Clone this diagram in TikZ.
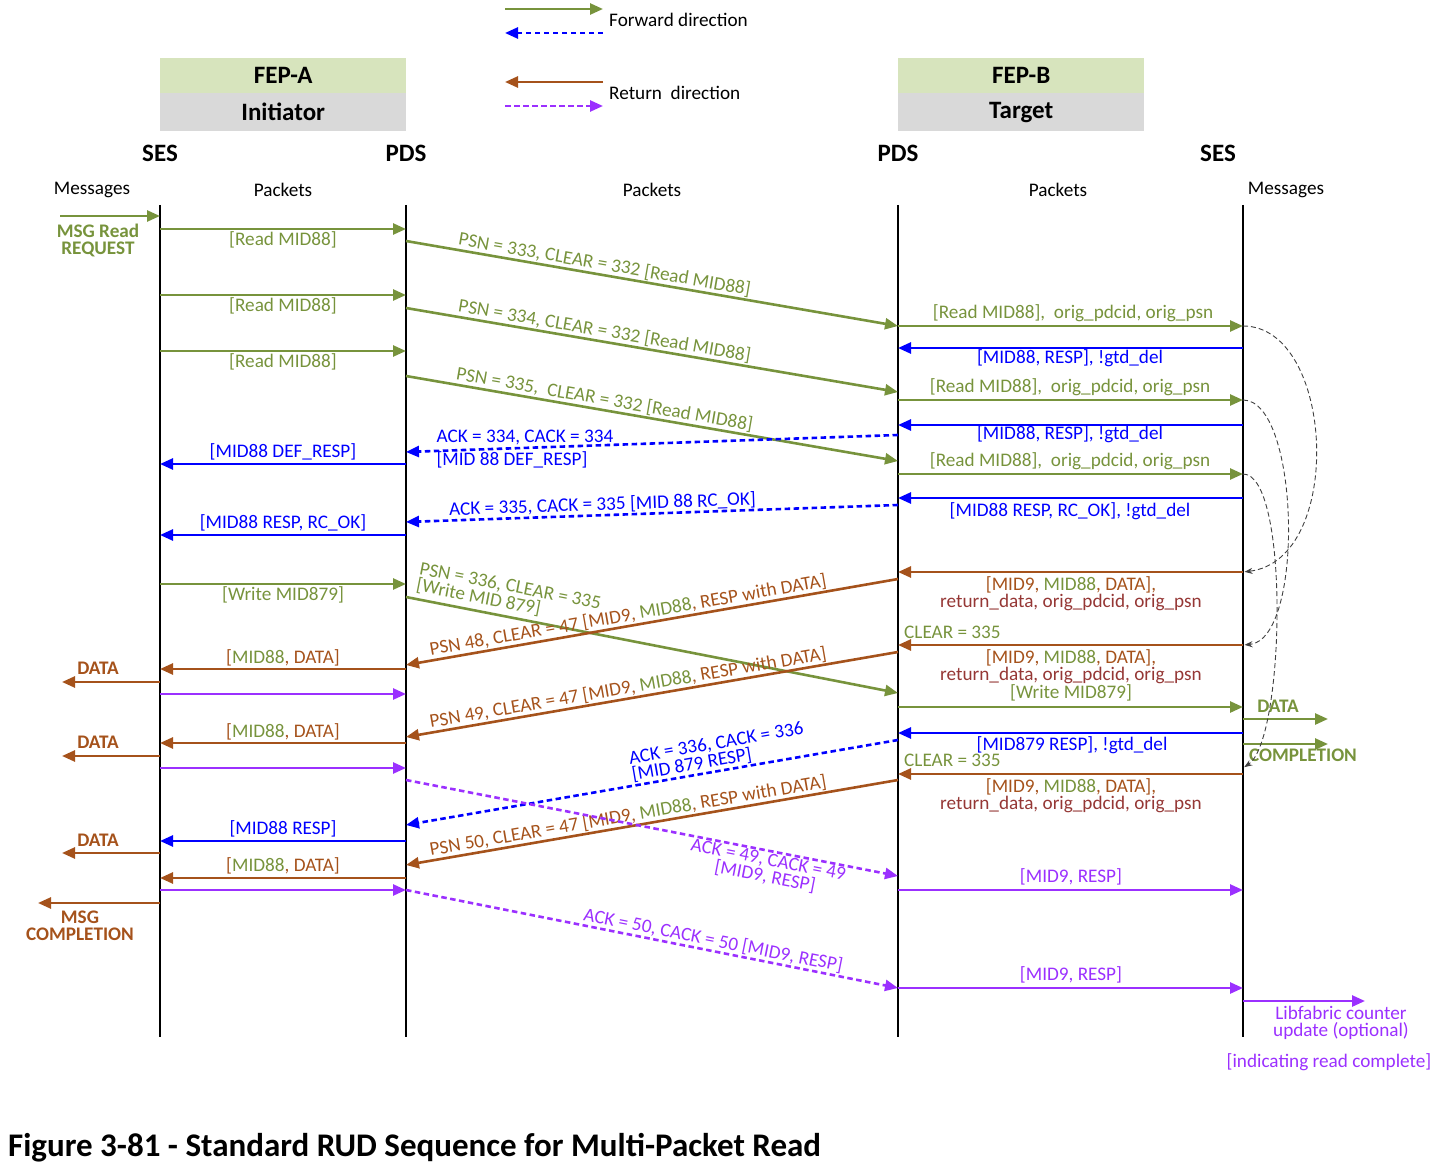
\documentclass[tikz,border=0pt]{standalone}
\usepackage{fontspec}
\setmainfont{Carlito}
\usetikzlibrary{arrows.meta}
\definecolor{fwgreen}{HTML}{77933C}
\definecolor{fwblue}{HTML}{0000FF}
\definecolor{rtbrown}{HTML}{A5521B}
\definecolor{rtpurple}{HTML}{9B30FF}
\definecolor{dkred}{HTML}{953735}
\definecolor{hdrgreen}{HTML}{D7E4BD}
\definecolor{hdrgray}{HTML}{D9D9D9}
\newcommand{\gtxt}[1]{\textcolor{fwgreen}{#1}}
\newcommand{\hmsg}[4]{\draw[#1] (#2|-0,#4) -- (#3|-0,#4);}
\begin{document}
\begin{tikzpicture}[x=1pt,y=-1pt,
  msgtip/.style={-{Triangle[length=13pt,width=11pt]}},
  msgline/.style={line width=2.6pt, msgtip},
  fwd/.style={msgline, draw=fwgreen},
  ackfwd/.style={msgline, draw=fwblue, dash pattern=on 5.5pt off 3.5pt},
  ret/.style={msgline, draw=rtbrown},
  ackret/.style={msgline, draw=rtpurple, dash pattern=on 5.5pt off 3.5pt},
  resp/.style={msgline, draw=fwblue},
  purp/.style={msgline, draw=rtpurple},
  life/.style={line width=2.8pt, draw=black},
  lbl/.style={font=\fontsize{19.2}{17}\selectfont, inner sep=1pt},
  blbl/.style={font=\fontsize{19.2}{17}\selectfont\bfseries, inner sep=1pt, align=center},
  hdr/.style={font=\fontsize{25}{27}\selectfont\bfseries, inner sep=0pt},
  duelink/.style={draw=black!75, line width=0.9pt, dash pattern=on 5pt off 3pt, -{Stealth[length=8pt,width=6pt]}, shorten >=1.5pt},
]
\useasboundingbox (0,0) rectangle (1441,1174);

% lifeline positions
\coordinate (sA) at (160,0);
\coordinate (pA) at (406,0);
\coordinate (pB) at (898,0);
\coordinate (sB) at (1243,0);

% legend
\draw[fwd] (505,9) coordinate (lg1) -- (603,9) coordinate (lg2);
\draw[ackfwd] (603,33) coordinate (lg3) -- (505,33) coordinate (lg4);
\node[lbl, anchor=west] (lgF) at (608,20) {Forward direction};
\draw[ret] (603,82) coordinate (lg5) -- (505,82) coordinate (lg6);
\draw[ackret] (505,106) coordinate (lg7) -- (603,106) coordinate (lg8);
\node[lbl, anchor=west] (lgR) at (608,93) {Return\ \ direction};

% headers
\node[hdr, fill=hdrgreen, minimum width=246pt, minimum height=35pt, anchor=north west] (fepA) at (160,58) {FEP-A};
\node[hdr, fill=hdrgray, minimum width=246pt, minimum height=38pt, anchor=north west] (initA) at (160,93) {Initiator};
\node[hdr, fill=hdrgreen, minimum width=246pt, minimum height=35pt, anchor=north west] (fepB) at (898,58) {FEP-B};
\node[hdr, fill=hdrgray, minimum width=246pt, minimum height=38pt, anchor=north west] (targB) at (898,93) {Target};

\node[hdr] (sesA) at (160,153) {SES};
\node[hdr] (pdsA) at (406,153) {PDS};
\node[hdr] (pdsB) at (898,153) {PDS};
\node[hdr] (sesB) at (1218,153) {SES};

\node[lbl] (msgA) at (92,190) {Messages};
\node[lbl] (pk1) at (283,190) {Packets};
\node[lbl] (pk2) at (652,190) {Packets};
\node[lbl] (pk3) at (1058,190) {Packets};
\node[lbl] (msgB) at (1286,190) {Messages};

% lifelines
\draw[life] (sA|-0,205) -- (sA|-0,1037);
\draw[life] (pA|-0,205) -- (pA|-0,1037);
\draw[life] (pB|-0,205) -- (pB|-0,1037);
\draw[life] (sB|-0,205) -- (sB|-0,1037);

% ---- SES-A side
\draw[fwd] (60,216) coordinate (inReq) -- (sA|-0,216);
\node[blbl, text=fwgreen] (reqL) at (98,240) {MSG Read\\REQUEST};

\hmsg{fwd}{sA}{pA}{229}
\hmsg{fwd}{sA}{pA}{295}
\hmsg{fwd}{sA}{pA}{351}
\hmsg{resp}{pA}{sA}{464}
\hmsg{resp}{pA}{sA}{535}
\hmsg{fwd}{sA}{pA}{584}
\hmsg{ret}{pA}{sA}{669}
\hmsg{purp}{sA}{pA}{694}
\hmsg{ret}{pA}{sA}{743}
\hmsg{purp}{sA}{pA}{768}
\hmsg{resp}{pA}{sA}{841}
\hmsg{ret}{pA}{sA}{878}
\hmsg{purp}{sA}{pA}{890}

\node[lbl, text=fwgreen] (a1) at (283,240) {[Read MID88]};
\node[lbl, text=fwgreen] (a2) at (283,306) {[Read MID88]};
\node[lbl, text=fwgreen] (a3) at (283,362) {[Read MID88]};
\node[lbl, text=fwblue] (a4) at (283,452) {[MID88 DEF\_RESP]};
\node[lbl, text=fwblue] (a5) at (283,523) {[MID88 RESP, RC\_OK]};
\node[lbl, text=fwgreen] (a6) at (283,595) {[Write MID879]};
\node[lbl, text=rtbrown] (a7) at (283,658) {[\gtxt{MID88}, DATA]};
\node[lbl, text=rtbrown] (a8) at (283,732) {[\gtxt{MID88}, DATA]};
\node[lbl, text=fwblue] (a9) at (283,829) {[MID88 RESP]};
\node[lbl, text=rtbrown] (a10) at (283,866) {[\gtxt{MID88}, DATA]};

\draw[ret] (sA|-0,682) -- (62,682) coordinate (outD1);
\node[blbl, text=rtbrown] (dL1) at (98,668) {DATA};
\draw[ret] (sA|-0,756) -- (62,756) coordinate (outD2);
\node[blbl, text=rtbrown] (dL2) at (98,742) {DATA};
\draw[ret] (sA|-0,853) -- (62,853) coordinate (outD3);
\node[blbl, text=rtbrown] (dL3) at (98,840) {DATA};
\draw[ret] (sA|-0,903) -- (38,903) coordinate (outC);
\node[blbl, text=rtbrown] (cL) at (80,926) {MSG\\COMPLETION};

% ---- PDS-A <-> PDS-B diagonals
\draw[fwd] (pA|-0,241) -- node[lbl, sloped, above, pos=0.4, text=fwgreen] (d1) {PSN = 333, CLEAR = 332 [Read MID88]} (pB|-0,326);
\draw[fwd] (pA|-0,308) -- node[lbl, sloped, above, pos=0.4, text=fwgreen] (d2) {PSN = 334, CLEAR = 332 [Read MID88]} (pB|-0,392);
\draw[fwd] (pA|-0,376) -- node[lbl, sloped, above, pos=0.4, text=fwgreen] (d3) {PSN = 335,\ \ CLEAR = 332 [Read MID88]} (pB|-0,461);

\draw[ackfwd] (pB|-0,435) -- (pA|-0,452);
\node[lbl, text=fwblue] (k1a) at (525,437) {ACK = 334, CACK = 334};
\node[lbl, text=fwblue] (k1b) at (512,460) {[MID 88 DEF\_RESP]};
\draw[ackfwd] (pB|-0,505) -- node[lbl, sloped, above, pos=0.6, text=fwblue] (k2) {ACK = 335, CACK = 335 [MID 88 RC\_OK]} (pA|-0,522);

\draw[fwd] (pA|-0,597) -- node[lbl, sloped, above=3pt, pos=0.2, text=fwgreen, align=left] (d4) {PSN = 336, CLEAR = 335\\{}[Write MID 879]} (pB|-0,693);

\draw[ret] (pB|-0,579) -- node[lbl, sloped, above, pos=0.545, text=rtbrown] (r1) {PSN 48, CLEAR = 47 [MID9, \gtxt{MID88}, RESP with DATA]} (pA|-0,665);
\draw[ret] (pB|-0,652) -- node[lbl, sloped, above, pos=0.545, text=rtbrown] (r2) {PSN 49, CLEAR = 47 [MID9, \gtxt{MID88}, RESP with DATA]} (pA|-0,737);
\draw[ackfwd] (pB|-0,740) -- node[lbl, sloped, above, pos=0.36, text=fwblue, align=left] (k3) {ACK = 336, CACK = 336\\{}[MID 879 RESP]} (pA|-0,825);
\draw[ret] (pB|-0,780) -- node[lbl, sloped, above, pos=0.545, text=rtbrown] (r3) {PSN 50, CLEAR = 47 [MID9, \gtxt{MID88}, RESP with DATA]} (pA|-0,865);

\draw[ackret] (pA|-0,780) -- node[lbl, sloped, below, pos=0.74, text=rtpurple, align=center] (p1) {ACK = 49, CACK = 49\\{}[MID9, RESP]} (pB|-0,876);
\draw[ackret] (pA|-0,890) -- node[lbl, sloped, above, pos=0.62, text=rtpurple] (p2) {ACK = 50, CACK = 50 [MID9, RESP]} (pB|-0,988);

% ---- PDS-B <-> SES-B
\hmsg{fwd}{pB}{sB}{326}
\hmsg{resp}{sB}{pB}{348}
\hmsg{fwd}{pB}{sB}{400}
\hmsg{resp}{sB}{pB}{425}
\hmsg{fwd}{pB}{sB}{474}
\hmsg{resp}{sB}{pB}{498}
\hmsg{ret}{sB}{pB}{572}
\hmsg{ret}{sB}{pB}{645}
\hmsg{fwd}{pB}{sB}{707}
\hmsg{resp}{sB}{pB}{733}
\hmsg{ret}{sB}{pB}{774}
\hmsg{purp}{pB}{sB}{890}
\hmsg{purp}{pB}{sB}{988}

\node[lbl, text=fwgreen] (b1) at (1073,313) {[Read MID88],\ \ orig\_pdcid, orig\_psn};
\node[lbl, text=fwblue] (b2) at (1070,358) {[MID88, RESP], !gtd\_del};
\node[lbl, text=fwgreen] (b3) at (1070,387) {[Read MID88],\ \ orig\_pdcid, orig\_psn};
\node[lbl, text=fwblue] (b4) at (1070,434) {[MID88, RESP], !gtd\_del};
\node[lbl, text=fwgreen] (b5) at (1070,461) {[Read MID88],\ \ orig\_pdcid, orig\_psn};
\node[lbl, text=fwblue] (b6) at (1070,511) {[MID88 RESP, RC\_OK], !gtd\_del};
\node[lbl, text=rtbrown, align=center] (b7) at (1071,593.5) {[MID9, \gtxt{MID88}, DATA],\\\textcolor{dkred}{return\_data, orig\_pdcid, orig\_psn}};
\node[lbl, text=fwgreen, anchor=west] (c1) at (903,632) {CLEAR = 335};
\node[lbl, text=rtbrown, align=center] (b8) at (1071,666.5) {[MID9, \gtxt{MID88}, DATA],\\\textcolor{dkred}{return\_data, orig\_pdcid, orig\_psn}};
\node[lbl, text=fwgreen] (b9) at (1071,693) {[Write MID879]};
\node[lbl, text=fwblue] (b10) at (1072,745) {[MID879 RESP], !gtd\_del};
\node[lbl, text=fwgreen, anchor=west] (c2) at (903,760) {CLEAR = 335};
\node[lbl, text=rtbrown, align=center] (b11) at (1071,795.5) {[MID9, \gtxt{MID88}, DATA],\\\textcolor{dkred}{return\_data, orig\_pdcid, orig\_psn}};
\node[lbl, text=rtpurple] (b12) at (1071,877) {[MID9, RESP]};
\node[lbl, text=rtpurple] (b13) at (1071,975) {[MID9, RESP]};

% ---- SES-B outputs
\draw[fwd] (sB|-0,719) -- (1328,719) coordinate (outBD);
\node[blbl, text=fwgreen] (bD) at (1278,706) {DATA};
\draw[fwd] (sB|-0,744) -- (1328,744) coordinate (outBC);
\node[blbl, text=fwgreen] (bC) at (1303,755) {COMPLETION};
\draw[purp] (sB|-0,1001) -- (1365,1001) coordinate (outLib);
\node[lbl, text=rtpurple, align=center] (lib) at (1341,1022.5) {Libfabric counter\\update (optional)};
\node[lbl, text=rtpurple] (ind) at (1329,1062) {[indicating read complete]};

% ---- dashed dependency curves
\draw[duelink] (sB|-0,326) .. controls (1335,326) and (1345,560) .. (sB|-0,572);
\draw[duelink] (sB|-0,400) .. controls (1300,400) and (1305,640) .. (sB|-0,645);
\draw[duelink] (sB|-0,474) .. controls (1290,474) and (1285,740) .. (sB|-0,768);

% title
\node[font=\fontsize{33}{35}\selectfont\bfseries, anchor=west, inner sep=0pt] (title) at (8,1148) {Figure 3-81 - Standard RUD Sequence for Multi-Packet Read};
\end{tikzpicture}
\end{document}
